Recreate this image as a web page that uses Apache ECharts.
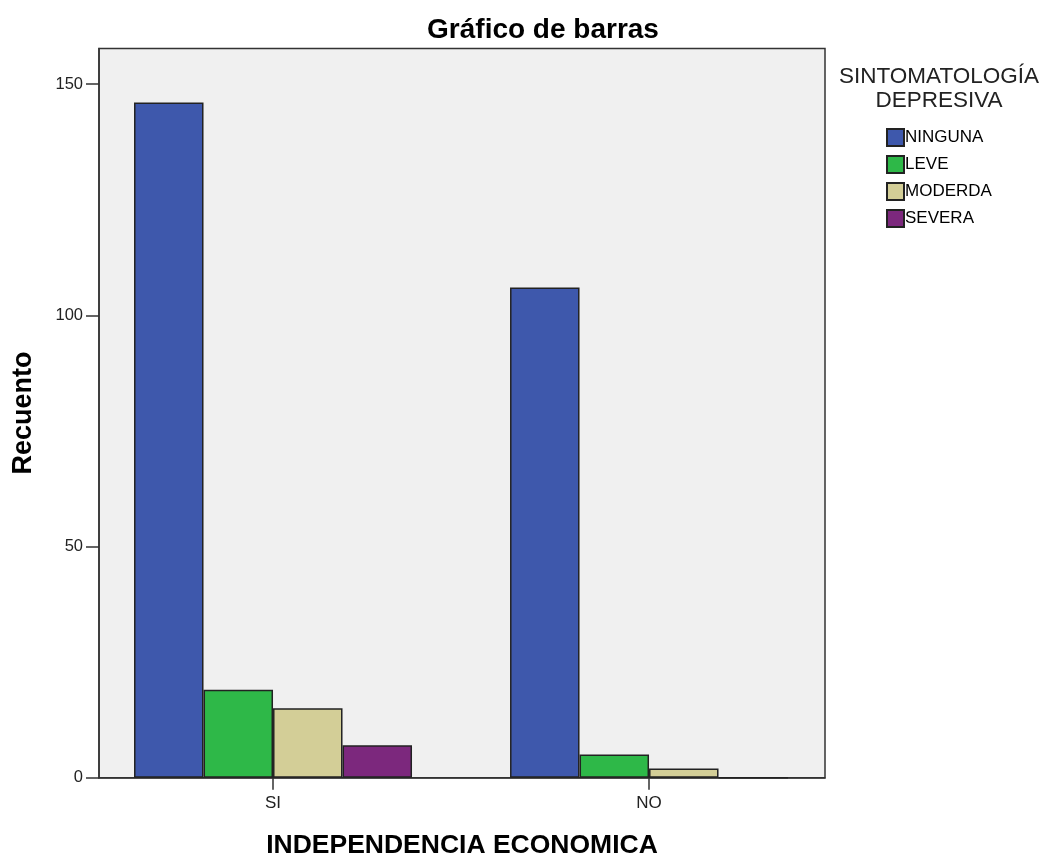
<!DOCTYPE html>
<html>
<head>
<meta charset="utf-8">
<script src="https://cdn.jsdelivr.net/npm/echarts@6/dist/echarts.min.js"></script>
<style>html,body{margin:0;padding:0;background:#fff}#c{width:1045px;height:858px}</style>
</head>
<body>
<div id="c"></div>
<script>
const categories = ['SI', 'NO'];
const seriesNames = ['NINGUNA', 'LEVE', 'MODERDA', 'SEVERA'];
const ninguna = [146, 106];
const leve = [19, 5];
const moderda = [15, 2];
const severa = [7, 0];
const yTicks = [0, 50, 100, 150];

const colors = ['#3e58ac', '#2eb848', '#d3ce97', '#7c287d'];
const values = [ninguna, leve, moderda, severa];
const FONT = "'Liberation Sans', Arial, sans-serif";

const chart = echarts.init(document.getElementById('c'));
chart.setOption({
  animation: false,
  textStyle: { fontFamily: FONT },
  title: [
    { text: 'Gráfico de barras', left: 538, top: 11, textAlign: 'center',
      textStyle: { fontFamily: FONT, fontSize: 28, fontWeight: 'bold', color: '#000' } },
    { text: 'SINTOMATOLOGÍA\nDEPRESIVA', left: 934, top: 60, textAlign: 'center',
      textStyle: { fontFamily: FONT, fontSize: 22.5, fontWeight: 'normal', color: '#222', lineHeight: 24 } }
  ],
  legend: {
    orient: 'vertical', left: 881, top: 123, itemWidth: 17, itemHeight: 17, itemGap: 8,
    icon: 'rect',
    textStyle: { fontFamily: FONT, fontSize: 17, color: '#000', padding: [0, 0, 0, -4] },
    data: seriesNames
  },
  grid: {
    left: 99, right: 220, top: 48.5, bottom: 80.3, outerBoundsMode: 'none',
    show: true, backgroundColor: '#f0f0f0', borderColor: '#333', borderWidth: 1.5
  },
  xAxis: {
    type: 'value', min: -0.4628, max: 1.468,
    name: 'INDEPENDENCIA ECONOMICA', nameLocation: 'middle', nameGap: 54,
    nameTextStyle: { fontFamily: FONT, fontSize: 26.5, fontWeight: 'bold', color: '#000' },
    axisLine: { show: true, onZero: false, lineStyle: { color: '#333', width: 1.5 } },
    axisTick: { show: true, customValues: [0, 1], length: 12, lineStyle: { color: '#333', width: 1.5 } },
    axisLabel: { customValues: [0, 1], formatter: v => categories[Math.round(v)], margin: 17,
      fontFamily: FONT, fontSize: 17, color: '#222' },
    splitLine: { show: false }
  },
  yAxis: {
    type: 'value', min: 0, max: 157.7, interval: 50,
    name: 'Recuento', nameLocation: 'middle', nameGap: 62,
    nameTextStyle: { fontFamily: FONT, fontSize: 27, fontWeight: 'bold', color: '#000' },
    axisLine: { show: true, onZero: false, lineStyle: { color: '#333', width: 1.5 } },
    axisTick: { show: true, length: 13, lineStyle: { color: '#333', width: 1.5 } },
    axisLabel: { margin: 16, fontFamily: FONT, fontSize: 16.5, color: '#222', showMaxLabel: false,
      formatter: v => (yTicks.indexOf(v) >= 0 ? String(v) : '') },
    splitLine: { show: false }
  },
  series: seriesNames.map((name, k) => ({
    name, type: 'bar', barWidth: 69.5, barGap: '0%',
    itemStyle: { color: colors[k], borderColor: '#222', borderWidth: 1.5 },
    data: categories.map((c, i) => [i, values[k][i]])
  }))
});
</script>
</body>
</html>
